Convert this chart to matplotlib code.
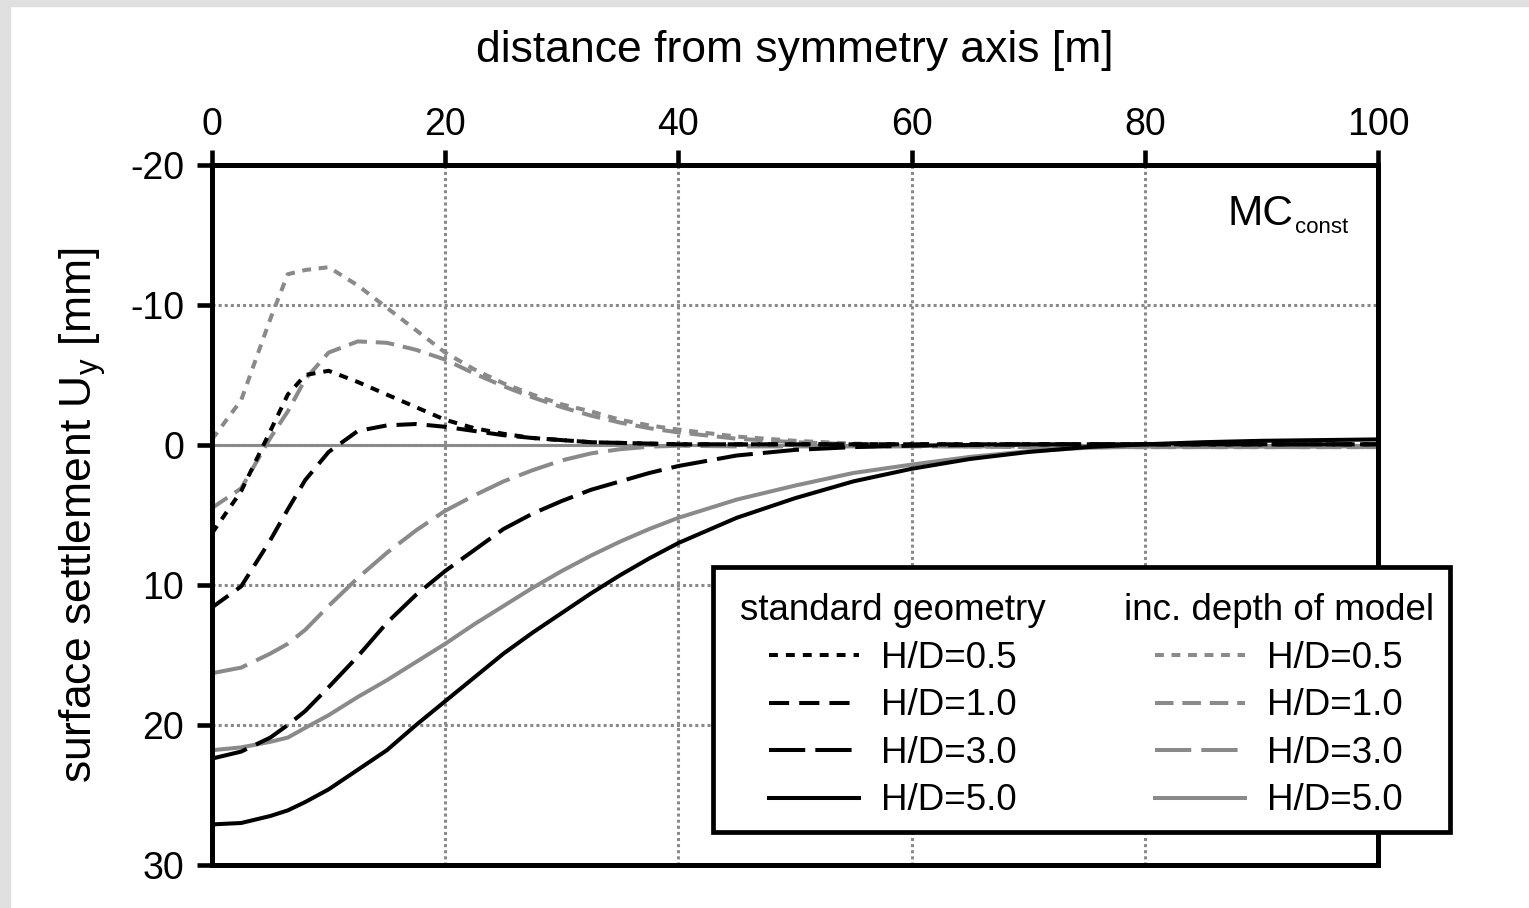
import matplotlib
matplotlib.use("Agg")
import matplotlib.pyplot as plt
from matplotlib.patches import Rectangle

plt.rcParams['font.family'] = ['Liberation Sans', 'DejaVu Sans']
plt.rcParams['axes.unicode_minus'] = False

# distance from symmetry axis [m]
x = [0, 2.5, 5, 6.5, 8, 10, 12.5, 15, 17.5, 20, 22.5, 25, 27.5, 30, 32.5, 35, 37.5,
     40, 45, 50, 55, 60, 65, 70, 75, 80, 85, 90, 95, 100]

# standard geometry, surface settlement Uy [mm]
std_05 = [6.3, 3.3, -1.0, -3.6, -5.0, -5.3, -4.5, -3.6, -2.7, -1.8, -1.2, -0.8, -0.5, -0.35,
          -0.2, -0.15, -0.1, -0.05, -0.05, -0.05, -0.05, -0.05, -0.05, -0.05, -0.05, -0.05,
          -0.05, -0.05, -0.05, -0.05]
std_10 = [11.6, 10.1, 6.8, 4.6, 2.5, 0.5, -1.0, -1.4, -1.5, -1.3, -1.0, -0.7, -0.5, -0.35,
          -0.2, -0.15, -0.1, -0.05, -0.05, -0.05, -0.05, -0.05, -0.05, -0.05, -0.05, -0.05,
          -0.05, -0.05, -0.05, -0.05]
std_30 = [22.4, 21.9, 20.9, 20.0, 19.0, 17.3, 15.1, 12.7, 10.7, 9.0, 7.5, 6.0, 4.9, 4.0,
          3.2, 2.6, 2.0, 1.5, 0.75, 0.35, 0.15, 0.05, 0.0, -0.05, -0.05, -0.05, -0.05,
          -0.05, -0.05, -0.05]
std_50 = [27.1, 27.0, 26.5, 26.1, 25.5, 24.6, 23.2, 21.8, 20.0, 18.3, 16.6, 14.9, 13.4,
          12.0, 10.6, 9.3, 8.1, 7.0, 5.2, 3.8, 2.6, 1.7, 1.0, 0.5, 0.15, -0.05, -0.2,
          -0.3, -0.35, -0.4]

# increased depth of model
inc_05 = [-0.4, -3.2, -9.0, -12.2, -12.5, -12.7, -11.4, -9.8, -8.2, -6.6, -5.4, -4.4,
          -3.6, -2.9, -2.4, -1.8, -1.4, -1.1, -0.6, -0.3, -0.1, 0.0, 0.1, 0.15, 0.15,
          0.15, 0.15, 0.15, 0.15, 0.15]
inc_10 = [4.5, 3.1, -0.5, -2.4, -4.7, -6.6, -7.4, -7.3, -6.8, -6.1, -5.1, -4.2, -3.4,
          -2.7, -2.1, -1.6, -1.2, -0.9, -0.45, -0.2, -0.05, 0.05, 0.1, 0.15, 0.15, 0.15,
          0.15, 0.15, 0.15, 0.15]
inc_30 = [16.3, 15.9, 14.9, 14.2, 13.2, 11.5, 9.5, 7.7, 6.1, 4.7, 3.6, 2.6, 1.8, 1.1,
          0.6, 0.3, 0.12, 0.05, 0.1, 0.1, 0.1, 0.1, 0.1, 0.1, 0.1, 0.1, 0.1, 0.1, 0.1, 0.1]
inc_50 = [21.8, 21.6, 21.2, 20.9, 20.2, 19.3, 18.0, 16.8, 15.5, 14.2, 12.8, 11.5, 10.2,
          9.0, 7.9, 6.9, 6.0, 5.2, 3.9, 2.9, 2.0, 1.4, 0.85, 0.45, 0.2, 0.1, 0.1, 0.1,
          0.1, 0.1]

labels = ['H/D=0.5', 'H/D=1.0', 'H/D=3.0', 'H/D=5.0']
xticks = [0, 20, 40, 60, 80, 100]
yticks = [-20, -10, 0, 10, 20, 30]

GRAY = '#8a8a8a'
LW_BLACK = 2.9
LW_GRAY = 2.9
styles_black = [(0, (2.2, 2.0)), (0, (5.0, 2.5)), (0, (9.0, 2.5)), '-']
styles_gray = [(0, (2.2, 1.9)), (0, (4.6, 2.2)), (0, (9.0, 2.5)), '-']

fig = plt.figure(figsize=(15.29, 9.08), dpi=100)
fig.patches.append(Rectangle((0, 1 - 6 / 908), 1, 6 / 908, transform=fig.transFigure,
                             color='#e0e0e0', zorder=0))
fig.patches.append(Rectangle((0, 0), 10 / 1529, 1, transform=fig.transFigure,
                             color='#e0e0e0', zorder=0))
ax = fig.add_axes([212 / 1529, 1 - 865 / 908, 1166 / 1529, 700 / 908])

ax.axhline(0, color=GRAY, lw=2.2, zorder=1)

std_handles = []
for y, ls in zip([std_05, std_10, std_30, std_50], styles_black):
    h, = ax.plot(x, y, color='black', lw=LW_BLACK, ls=ls, zorder=3)
    std_handles.append(h)
inc_handles = []
for y, ls in zip([inc_05, inc_10, inc_30, inc_50], styles_gray):
    h, = ax.plot(x, y, color=GRAY, lw=LW_GRAY, ls=ls, zorder=2)
    inc_handles.append(h)

ax.set_xlim(0, 100)
ax.set_ylim(30, -20)
ax.set_xticks(xticks)
ax.set_yticks(yticks)
ax.set_yticklabels([str(v) for v in yticks])
ax.xaxis.tick_top()
ax.xaxis.set_label_position('top')
ax.tick_params(axis='both', direction='out', length=11, width=3.3, labelsize=27,
               colors='black')
ax.tick_params(axis='x', pad=5)
ax.tick_params(axis='y', pad=9)
ax.grid(True, color=GRAY, ls=(0, (1, 1)), lw=2.2, zorder=0)
for s in ax.spines.values():
    s.set_linewidth(3.6)
    s.set_color('black')

ax.set_xlabel('distance from symmetry axis [m]', fontsize=32)
ax.xaxis.set_label_coords(0.5, 1.147)
ax.set_ylabel(r'surface settlement U$_\mathregular{y}$ [mm]', fontsize=32)
ax.yaxis.set_label_coords(-0.089, 0.5)

ax.text(0.8705, 0.9143, 'MC', transform=ax.transAxes, fontsize=30.5,
        ha='left', va='baseline')
ax.text(0.9288, 0.9029, 'const', transform=ax.transAxes, fontsize=16,
        ha='left', va='baseline')

# legend frame
frame = Rectangle((0.4297, 0.0471), 1.0617 - 0.4297, 0.4257 - 0.0471,
                  transform=ax.transAxes, facecolor='white', edgecolor='black',
                  lw=3.4, zorder=5, clip_on=False)
ax.add_patch(frame)

leg_kw = dict(frameon=False, fontsize=26.5, title_fontsize=26.5, handlelength=2.45,
              handletextpad=0.6, labelspacing=0.34, borderpad=0, loc='upper center')
leg1 = ax.legend(std_handles, labels, title='standard geometry',
                 bbox_to_anchor=((893 - 212) / 1166, (865 - 575) / 700), **leg_kw)
leg1.set_zorder(6)
ax.add_artist(leg1)
leg2 = ax.legend(inc_handles, labels, title='inc. depth of model',
                 bbox_to_anchor=((1279 - 212) / 1166, (865 - 575) / 700), **leg_kw)
leg2.set_zorder(6)

fig.savefig('out.png', dpi=100)
